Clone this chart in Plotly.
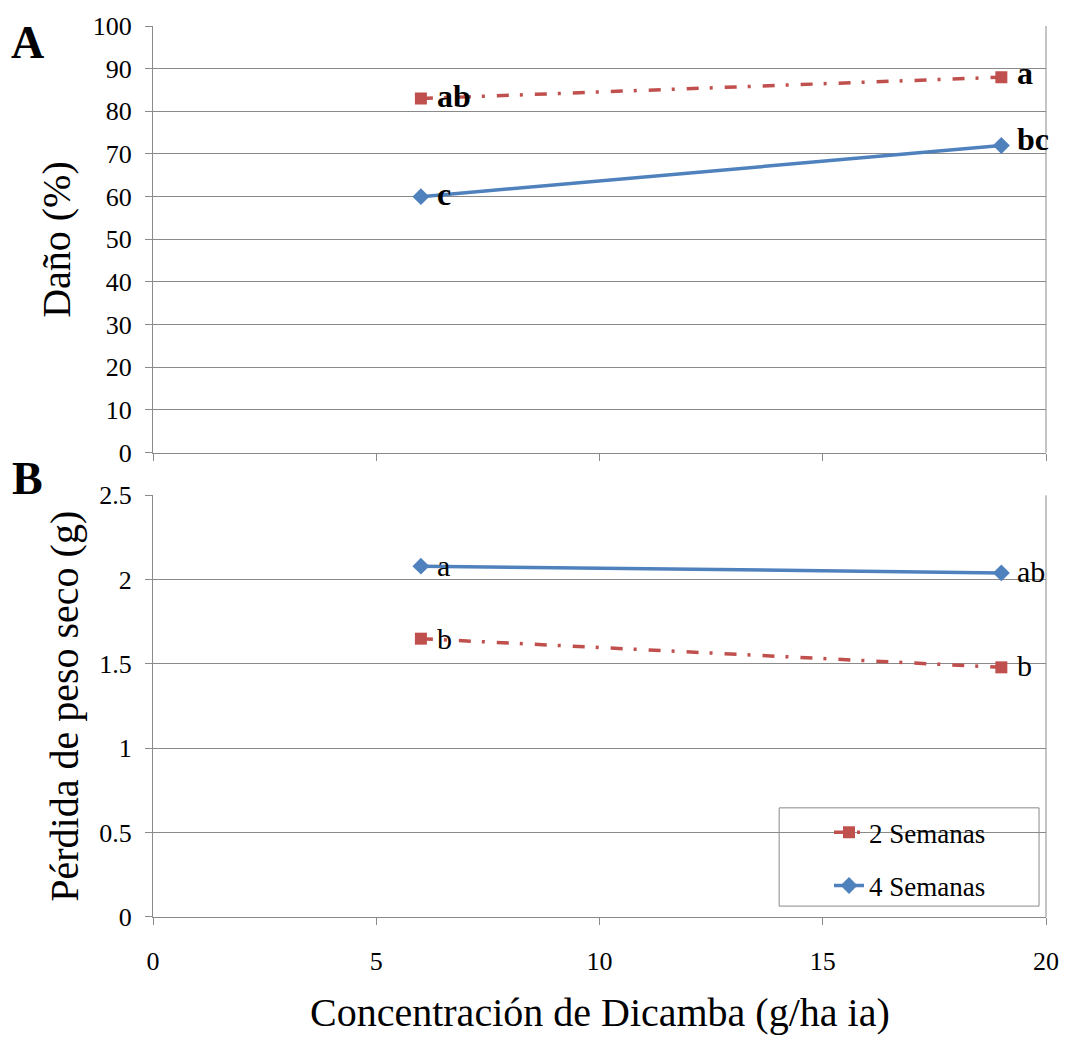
import plotly.graph_objects as go

# ---- data ----
conc = [6, 19]
series_names = ["2 Semanas", "4 Semanas"]
dano_2sem = [83, 88]
dano_4sem = [60, 72]
peso_2sem = [1.65, 1.48]
peso_4sem = [2.08, 2.04]
letters_dano_2sem = ["ab", "a"]
letters_dano_4sem = ["c", "bc"]
letters_peso_2sem = ["b", "b"]
letters_peso_4sem = ["a", "ab"]
dano_ticks = [0, 10, 20, 30, 40, 50, 60, 70, 80, 90, 100]
peso_ticks = [0, 0.5, 1, 1.5, 2, 2.5]
x_ticks = [0, 5, 10, 15, 20]

RED = "#C0504D"
BLUE = "#4F81BD"
FONT = '"Liberation Serif", "Times New Roman", serif'
GRID = "#8a8a8a"
RED_DASH = "12px,11px,3px,12px"

TOP_DOM = [0.5212, 1]
BOT_DOM = [0, 0.4733]

fig = go.Figure()

# top panel (A)
fig.add_trace(go.Scatter(x=conc, y=dano_2sem, mode="lines+markers", name=series_names[0],
                         line=dict(color=RED, width=3.5, dash=RED_DASH),
                         marker=dict(symbol="square", size=12, color=RED),
                         xaxis="x", yaxis="y", showlegend=False))
fig.add_trace(go.Scatter(x=conc, y=dano_4sem, mode="lines+markers", name=series_names[1],
                         line=dict(color=BLUE, width=3.5),
                         marker=dict(symbol="diamond", size=13, color=BLUE),
                         xaxis="x", yaxis="y", showlegend=False))
# bottom panel (B)
fig.add_trace(go.Scatter(x=conc, y=peso_2sem, mode="lines+markers", name=series_names[0],
                         line=dict(color=RED, width=3.5, dash=RED_DASH),
                         marker=dict(symbol="square", size=12, color=RED),
                         xaxis="x2", yaxis="y2", legendgroup="g1"))
fig.add_trace(go.Scatter(x=conc, y=peso_4sem, mode="lines+markers", name=series_names[1],
                         line=dict(color=BLUE, width=3.5),
                         marker=dict(symbol="diamond", size=13, color=BLUE),
                         xaxis="x2", yaxis="y2", legendgroup="g2"))

annotations = []

def add_letters(xs, ys, labels, xref, yref, bold, yshifts, size, xshift=14):
    for xv, yv, lab, ys_ in zip(xs, ys, labels, yshifts):
        txt = f"<b>{lab}</b>" if bold else lab
        annotations.append(dict(x=xv, y=yv, xref=xref, yref=yref, text=txt,
                                showarrow=False, xanchor="left", yanchor="middle",
                                xshift=xshift, yshift=ys_,
                                font=dict(family=FONT, size=size, color="black")))

add_letters(conc, dano_2sem, letters_dano_2sem, "x", "y", True, [3, 4], 32)
add_letters(conc, dano_4sem, letters_dano_4sem, "x", "y", True, [3, 6], 32)
add_letters(conc, peso_4sem, letters_peso_4sem, "x2", "y2", False, [1, 1], 30)
add_letters(conc, peso_2sem, letters_peso_2sem, "x2", "y2", False, [0, 2], 30)

# panel letters
annotations.append(dict(x=-0.1405, y=0.9766, xref="paper", yref="paper", text="<b>A</b>",
                        showarrow=False, xanchor="center", yanchor="middle", yshift=4,
                        font=dict(family=FONT, size=46, color="black")))
annotations.append(dict(x=-0.1405, y=0.4922, xref="paper", yref="paper", text="<b>B</b>",
                        showarrow=False, xanchor="center", yanchor="middle",
                        font=dict(family=FONT, size=46, color="black")))
# axis titles
annotations.append(dict(x=-0.108, y=(TOP_DOM[0] + TOP_DOM[1]) / 2, xref="paper", yref="paper",
                        text="Daño (%)", textangle=-90, showarrow=False,
                        xanchor="center", yanchor="middle",
                        font=dict(family=FONT, size=40, color="black")))
annotations.append(dict(x=-0.099, y=(BOT_DOM[0] + BOT_DOM[1]) / 2, xref="paper", yref="paper",
                        text="Pérdida de peso seco (g)", textangle=-90, showarrow=False,
                        xanchor="center", yanchor="middle",
                        font=dict(family=FONT, size=40, color="black")))
annotations.append(dict(x=0.5, y=0, xref="paper", yref="paper",
                        text="Concentración de Dicamba (g/ha ia)", showarrow=False,
                        xanchor="center", yanchor="middle", yshift=-95,
                        font=dict(family=FONT, size=40, color="black")))

axis_common = dict(showline=True, linecolor=GRID, linewidth=1, ticks="outside",
                   ticklen=7, tickcolor=GRID, tickfont=dict(family=FONT, size=26, color="black"),
                   zeroline=False)

fig.update_layout(
    width=1071, height=1047,
    margin=dict(l=153, r=21, t=19, b=130),
    paper_bgcolor="white", plot_bgcolor="white",
    showlegend=True,
    annotations=annotations,
    xaxis=dict(domain=[0, 1], range=[0, 20], anchor="y", tickvals=x_ticks,
               showticklabels=False, showgrid=False, **axis_common),
    yaxis=dict(domain=TOP_DOM, range=[0, 100], anchor="x", tickvals=dano_ticks,
               showgrid=True, gridcolor=GRID, gridwidth=1, ticklabelstandoff=8, **axis_common),
    xaxis2=dict(domain=[0, 1], range=[0, 20], anchor="y2", tickvals=x_ticks,
                showgrid=False, ticklabelstandoff=14, **axis_common),
    yaxis2=dict(domain=BOT_DOM, range=[0, 2.5], anchor="x2", tickvals=peso_ticks,
                showgrid=True, gridcolor=GRID, gridwidth=1, ticklabelstandoff=8, **axis_common),
    legend=dict(x=0.757, y=0.122, xanchor="left", yanchor="top",
                borderwidth=0, bgcolor="rgba(0,0,0,0)",
                font=dict(family=FONT, size=27, color="black"),
                tracegroupgap=15, itemwidth=30),
    shapes=[
        dict(type="line", xref="paper", yref="paper", x0=1, x1=1, y0=TOP_DOM[0], y1=TOP_DOM[1],
             line=dict(color=GRID, width=1)),
        dict(type="line", xref="paper", yref="paper", x0=1, x1=1, y0=BOT_DOM[0], y1=BOT_DOM[1],
             line=dict(color=GRID, width=1)),
        dict(type="rect", xref="paper", yref="paper", x0=0.7012, x1=0.9922, y0=0.01225, y1=0.1225,
             line=dict(color=GRID, width=1), fillcolor="white", layer="below"),
    ],
)

fig.write_html("out.html")
